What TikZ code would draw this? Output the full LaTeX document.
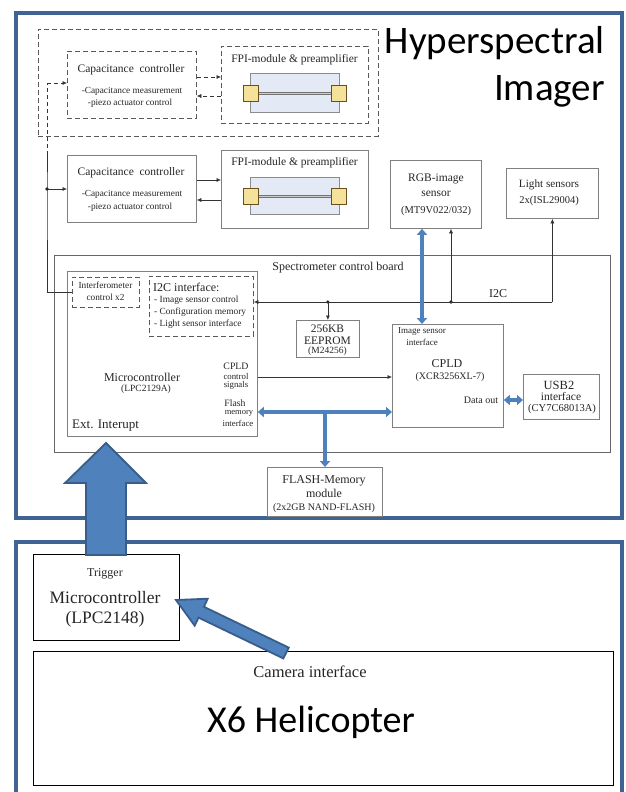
\documentclass[tikz,border=0pt]{standalone}
\usepackage{fontspec}
\setmainfont{Liberation Serif}
\newfontfamily\calib{Carlito}
\usetikzlibrary{arrows.meta}
\definecolor{frameblue}{HTML}{3F6393}
\definecolor{arrowblue}{HTML}{4F81BD}
\definecolor{arrowedge}{HTML}{385D8A}
\definecolor{fpiblue}{HTML}{E3E9F5}
\definecolor{mirror}{HTML}{F5E29A}
\definecolor{mirroredge}{HTML}{6B4E1E}
\newcommand\fz[1]{\fontsize{#1}{#1}\selectfont}
\begin{document}
\begin{tikzpicture}[x=1pt,y=-1pt,
 box/.style={draw=black!50, line width=0.8pt, inner sep=0pt, anchor=north west, fill=white},
 dbox/.style={box, draw=black!65, dash pattern=on 5pt off 3pt},
 kbox/.style={draw=black, line width=1.3pt, inner sep=0pt, anchor=north west, fill=white},
 frame/.style={draw=frameblue, line width=4pt},
 conn/.style={draw=black!80, line width=0.6pt},
 arr/.style={conn, -{Latex[length=4.5pt,width=4pt]}},
 dconn/.style={conn, dash pattern=on 4pt off 3pt},
 darr/.style={dconn, -{Latex[length=4.5pt,width=4pt]}},
 jdot/.style={circle, fill=black!85, inner sep=0pt, minimum size=3.6pt},
 bus/.style={draw=arrowblue, line width=3.6pt, {Triangle[width=10pt,length=6pt]}-{Triangle[width=10pt,length=6pt]}},
 busone/.style={draw=arrowblue, line width=3.6pt, -{Triangle[width=10pt,length=6pt]}},
 blockarrow/.style={fill=arrowblue, draw=arrowedge, line width=1.8pt, line join=miter},
 lab/.style={inner sep=0pt, text=black!85, font=\fz{#1}},
 labl/.style={lab=#1, anchor=west},
 glass/.style={fill=fpiblue, draw=black!45, line width=0.8pt, inner sep=0pt, anchor=north west},
 mirrorsq/.style={fill=mirror, draw=mirroredge, line width=1pt, inner sep=0pt, anchor=north west, minimum width=15pt, minimum height=16pt},
 rod/.style={draw=black!55, line width=2.2pt},
 rodlight/.style={draw=black!20, line width=0.6pt},
]
\useasboundingbox (0,0) rectangle (625,792);
\fill[white] (0,0) rectangle (625,792);

% blue frames
\draw[frame] (16,13.5) rectangle (622,518);
\draw[frame] (16,798) -- (16,542) -- (622,542) -- (622,798);

\node[inner sep=0pt, anchor=base east, font=\calib\fz{39}] (title1) at (605,54) {Hyperspectral};
\node[inner sep=0pt, anchor=base east, font=\calib\fz{39}] (title2) at (605,100) {Imager};

% duplicated (dashed) module
\node[dbox, fill=none, minimum width=340pt, minimum height=107pt] (dup) at (38,29) {};
\node[dbox, minimum width=129pt, minimum height=67pt] (cc1) at (67,51) {};
\node[lab=11.5] (cc1t) at (131,70) {Capacitance~ controller};
\node[lab=9.3] (cc1a) at (132,91) {-Capacitance measurement};
\node[lab=9.3] (cc1b) at (130,103) {-piezo actuator control};
\node[dbox, minimum width=147pt, minimum height=77pt] (fpi1) at (221,46) {};
\node[lab=11.5] (fpi1t) at (294.5,60) {FPI-module \& preamplifier};
\node[glass, minimum width=89pt, minimum height=39pt] (g1) at (250,73) {};
\node[mirrorsq] (m1a) at (243,85) {};
\node[mirrorsq] (m1b) at (331,85) {};
\draw[rod] (m1a.east) -- (m1b.west);
\draw[rodlight] (m1a.east) -- (m1b.west);

% second module
\node[box, minimum width=129pt, minimum height=67pt] (cc2) at (67,155) {};
\node[lab=11.5] (cc2t) at (131,173) {Capacitance~ controller};
\node[lab=9.3] (cc2a) at (132,194) {-Capacitance measurement};
\node[lab=9.3] (cc2b) at (130,207) {-piezo actuator control};
\node[box, minimum width=147pt, minimum height=78pt] (fpi2) at (221,150) {};
\node[lab=11.5] (fpi2t) at (294.5,163) {FPI-module \& preamplifier};
\node[glass, minimum width=89pt, minimum height=37pt] (g2) at (250,177) {};
\node[mirrorsq] (m2a) at (243,188) {};
\node[mirrorsq] (m2b) at (331,188) {};
\draw[rod] (m2a.east) -- (m2b.west);
\draw[rodlight] (m2a.east) -- (m2b.west);

% sensors
\node[box, minimum width=91pt, minimum height=68pt] (rgb) at (390,160) {};
\node[lab=11.5] (rgbt1) at (436,179) {RGB-image};
\node[lab=11.5] (rgbt2) at (436,194) {sensor};
\node[lab=10.5] (rgbt3) at (436,211) {(MT9V022/032)};
\node[box, minimum width=92pt, minimum height=50pt] (lsens) at (506,168) {};
\node[lab=11.2] (lst1) at (549,185) {Light sensors};
\node[lab=10.5] (lst2) at (549,201) {2x(ISL29004)};

% spectrometer control board
\node[box, draw=black!60, minimum width=556pt, minimum height=197pt] (board) at (54,255) {};
\node[lab=12] (boardt) at (338,268) {Spectrometer control board};
\node[box, minimum width=190pt, minimum height=165pt] (mcu) at (67,271) {};
\node[dbox, minimum width=67pt, minimum height=30pt] (intf) at (72,277) {};
\node[lab=9.3] (intft1) at (105.5,285) {Interferometer};
\node[lab=9.3] (intft2) at (105.5,297) {control x2};
\node[dbox, minimum width=104pt, minimum height=60pt] (i2c) at (149,276) {};
\node[labl=12] (i2ct) at (153,287) {I2C interface:};
\node[labl=9.4] (i2c1) at (154,300) {- Image sensor control};
\node[labl=9.4] (i2c2) at (154,312) {- Configuration memory};
\node[labl=9.4] (i2c3) at (154,324) {- Light sensor interface};
\node[lab=12] (mcut1) at (142,377) {Microcontroller};
\node[lab=9.5] (mcut2) at (146,389) {(LPC2129A)};
\node[lab=9.8] (cs1) at (236,366) {CPLD};
\node[lab=8.8] (cs2) at (236,376) {control};
\node[lab=8.8] (cs3) at (236,385) {signals};
\node[lab=9.7] (fm1) at (235,403.5) {Flash};
\node[lab=8.5] (fm2) at (239,413.5) {memory};
\node[lab=8.8] (fm3) at (238,423) {interface};
\node[labl=13] (ext) at (72,426) {Ext. Interupt};

\node[box, minimum width=63pt, minimum height=37pt] (eeprom) at (296,320) {};
\node[lab=11.5] (ee1) at (327.5,329) {256KB};
\node[lab=11.5] (ee2) at (327.5,340.5) {EEPROM};
\node[lab=9.5] (ee3) at (327.5,351.5) {(M24256)};

\node[box, minimum width=111pt, minimum height=103pt] (cpld) at (392,324) {};
\node[lab=9] (cp1) at (422,332) {Image sensor};
\node[lab=9] (cp2) at (422,342) {interface};
\node[lab=12] (cp3) at (447,364) {CPLD};
\node[lab=10] (cp4) at (450,377) {(XCR3256XL-7)};
\node[lab=10] (cp5) at (481,400) {Data out};

\node[box, minimum width=76pt, minimum height=45pt] (usb) at (523,374) {};
\node[lab=12.5] (us1) at (559,385) {USB2};
\node[lab=11.5] (us2) at (561,397) {interface};
\node[lab=10.5] (us3) at (562,408.5) {(CY7C68013A)};
\node[lab=12] (i2cbus) at (498,294) {I2C};

\node[box, minimum width=115pt, minimum height=49pt] (flash) at (267,467) {};
\node[lab=12] (fl1) at (324,481) {FLASH-Memory};
\node[lab=12] (fl2) at (324,493) {module};
\node[lab=10] (fl3) at (324,508) {(2x2GB NAND-FLASH)};

% helicopter part
\node[kbox, minimum width=146pt, minimum height=86pt] (trig) at (33,554) {};
\node[lab=12, anchor=base] (trt) at (105,576) {Trigger};
\node[lab=17.5, anchor=base] (tr1) at (105,603) {Microcontroller};
\node[lab=17.5, anchor=base] (tr2) at (105,623) {(LPC2148)};
\node[kbox, minimum width=580pt, minimum height=134pt] (x6) at (33,651) {};
\node[lab=16.5, anchor=base] (cam) at (310,677) {Camera interface};
\node[inner sep=0pt, anchor=base, font=\calib\fz{38}] (x6t) at (311,732) {X6 Helicopter};

% connectors: capacitance controllers <-> FPI modules
\draw[darr] (cc1.east |- 0,77) -- (fpi1.west |- 0,77);
\draw[darr] (fpi1.west |- 0,96) -- (cc1.east |- 0,96);
\draw[arr] (cc2.east |- 0,180) -- (fpi2.west |- 0,180);
\draw[arr] (fpi2.west |- 0,200) -- (cc2.east |- 0,200);

% interferometer control feedback
\coordinate (fbdot) at (47,189);
\coordinate (fbmid) at (47,155);
\coordinate (fbtop) at (47,83);
\draw[conn] (intf.west) -| (fbdot) -- (fbmid);
\draw[dconn] (fbmid) -- (fbtop);
\draw[darr] (fbtop) -- (cc1.west |- fbtop);
\draw[arr] (fbdot) -- (cc2.west |- fbdot);
\node[jdot] (fbd) at (fbdot) {};

% I2C bus
\coordinate (busR) at (lsens.south |- 0,302);
\node[jdot] (d1) at (eeprom.north |- 0,302) {};
\node[jdot] (d2) at (451,302) {};
\draw[arr] (busR) -- (i2c.east |- busR);
\draw[arr] (busR) -- (lsens.south);
\draw[arr] (d2.center) -- (d2.center |- rgb.south);
\draw[arr] (d1.center) -- (eeprom.north);

% CPLD control signals
\draw[arr] (mcu.east |- 0,377) -- (cpld.west |- 0,377);

% blue data buses
\draw[bus] (rgb.south -| 422,0) -- (cpld.north -| 422,0);
\draw[bus] (mcu.east |- 0,412) -- (cpld.west |- 0,412);
\coordinate (tj) at (325,412);
\draw[busone] (tj) -- (flash.north -| tj);
\draw[bus] (cpld.east |- 0,400) -- (usb.west |- 0,400);

% big block arrows
\filldraw[blockarrow] (106,443) -- (146,483) -- (126,483) -- (126,555) -- (86,555) -- (86,483) -- (65,483) -- cycle;
\filldraw[blockarrow] (176,600) -- (207.7,598.7) -- (203.9,606.8) -- (288.7,647.6) -- (283.3,658.4) -- (198.5,617.6) -- (194.7,625.7) -- cycle;
\end{tikzpicture}
\end{document}
